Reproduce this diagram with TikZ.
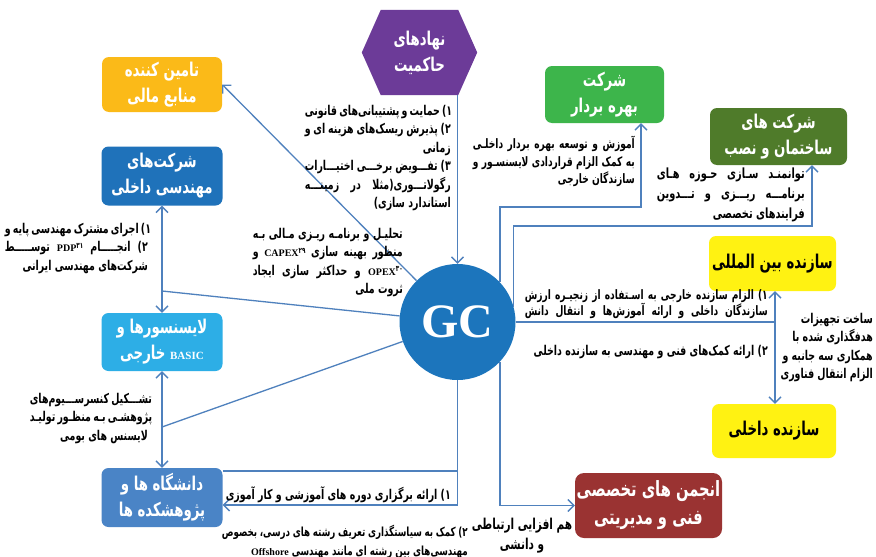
\documentclass[tikz,border=0pt]{standalone}
\usepackage{fontspec}
\usetikzlibrary{arrows.meta}
\TeXXeTstate=1
\newfontfamily\fa[Script=Arabic, FakeStretch=0.7]{DejaVu Sans}
\newfontfamily\lat{Liberation Serif}
\newcommand\jl[2]{\hbox to #1pt{#2}}
\newcommand\en[1]{\beginL{\lat\bfseries\fontsize{10}{10}\selectfont #1}\endL}
\newcommand\sps[1]{\raisebox{0.8ex}{\fa\fontsize{8}{8}\selectfont #1}}
\definecolor{cLine}{HTML}{4F81BD}
\definecolor{cHex}{HTML}{6C3B98}
\definecolor{cTamin}{HTML}{FBBA18}
\definecolor{cShm}{HTML}{1F72BA}
\definecolor{cLis}{HTML}{2DAEE6}
\definecolor{cDan}{HTML}{4A84C6}
\definecolor{cBah}{HTML}{3DB54B}
\definecolor{cSak}{HTML}{4F7B2A}
\definecolor{cYel}{HTML}{FFF212}
\definecolor{cAnj}{HTML}{9A3332}
\definecolor{cGC}{HTML}{1C75BC}
\begin{document}
\begin{tikzpicture}[x=1pt,y=-1pt,
  box/.style={rounded corners=7pt, text=white, align=center, inner sep=0pt,
    font=\fa\bfseries\fontsize{19}{26}\selectfont},
  ptxt/.style={inner sep=0pt, align=right, text=black,
    font=\fa\bfseries\fontsize{13.5}{18.5}\selectfont},
  conn/.style={draw=cLine, line width=1.3pt},
  arr/.style={-{Straight Barb[length=6pt,width=12pt]}},
  both/.style={{Straight Barb[length=6pt,width=12pt]}-{Straight Barb[length=6pt,width=12pt]}}]
\useasboundingbox (0,0) rectangle (876,557);
\fill[white] (0,0) rectangle (876,557);

% hexagon
\node[minimum width=115pt, minimum height=85pt, inner sep=0pt] (hex) at (419.5,52.5) {};
\fill[cHex] (hex.west) -- ([xshift=19pt]hex.north west) -- ([xshift=-19pt]hex.north east)
  -- (hex.east) -- ([xshift=-19pt]hex.south east) -- ([xshift=19pt]hex.south west) -- cycle;
\node[box, text=white] (hexlbl) at (hex.center) {\beginR نهادهای\endR\\\beginR حاکمیت\endR};

% GC
\node[circle, fill=cGC, minimum size=116pt, inner sep=0pt, text=white,
  font=\lat\bfseries\fontsize{48}{48}\selectfont] (gc) at (457.5,322) {GC};

% boxes
\node[box, fill=cTamin, minimum width=120pt, minimum height=55pt] (tamin) at (162,84.5) {\beginR تامین کننده\endR\\\beginR منابع مالی\endR};
\node[box, fill=cShm, minimum width=121pt, minimum height=59pt] (shm) at (162,176) {\beginR شرکت^^^^200cهای\endR\\\beginR مهندسی داخلی\endR};
\node[box, fill=cLis, minimum width=121pt, minimum height=58pt] (lis) at (162,342) {\beginR لایسنسورها و\endR\\\beginR\beginL{\lat\fontsize{11}{11}\selectfont BASIC}\endL{} خارجی\endR};
\node[box, fill=cDan, minimum width=121pt, minimum height=59pt] (dan) at (162,497.5) {\beginR دانشگاه ها و\endR\\\beginR پژوهشکده ها\endR};
\node[box, fill=cBah, minimum width=119pt, minimum height=57pt] (bah) at (604.5,94.5) {\beginR شرکت\endR\\\beginR بهره بردار\endR};
\node[box, fill=cSak, minimum width=137pt, minimum height=57pt] (sak) at (778.5,136.5) {\beginR شرکت های\endR\\\beginR ساختمان و نصب\endR};
\node[box, fill=cYel, text=black, minimum width=127pt, minimum height=55pt] (sbn) at (772.5,263.5) {\beginR سازنده بین المللی\endR};
\node[box, fill=cYel, text=black, minimum width=124pt, minimum height=54pt] (sdk) at (774,431) {\beginR سازنده داخلی\endR};
\node[box, fill=cAnj, rounded corners=9pt, minimum width=147pt, minimum height=65pt,
  font=\fa\bfseries\fontsize{21}{28}\selectfont] (anj) at (648.5,505.5) {\beginR انجمن های تخصصی\endR\\\beginR فنی و مدیریتی\endR};

% connectors
\draw[conn,arr] (gc.north |- hex.south) -- (gc.north);
\draw[conn,arr] (gc) -- (tamin.east);
\coordinate (j1) at (162,291);
\draw[conn] (j1) -- (gc);
\draw[conn,both] (shm.south) -- (lis.north);
\coordinate (j2) at (162,427);
\draw[conn] (j2) -- (gc);
\draw[conn,both] (lis.south) -- (dan.north);
\coordinate (b1) at (457.5,505);
\coordinate (b2) at (457.5,471);
\draw[conn,arr] (gc.south) -- (b1) -- (b1 -| dan.east);
\draw[conn] (b2) -- (b2 -| dan.east);
\draw[conn,arr] (gc.-43) |- (anj.west);
\coordinate (r1) at (775,322);
\draw[conn] (gc.east) -- (r1);
\draw[conn,both] (r1 |- sbn.south) -- (r1 |- sdk.north);
\coordinate (t1) at (641,207);
\draw[conn,arr] (gc.43) |- (t1) -- (t1 |- bah.south);
\coordinate (t2) at (812,226);
\draw[conn,arr] (gc.15) |- (t2) -- (t2 |- sak.south);

% texts
\node[ptxt, anchor=north east] (x1) at (451,105) {\jl{146}{\beginR ۱) حمایت و پشتیبانی^^^^200cهای قانونی\endR}\\\jl{146}{\beginR ۲) پذیرش ریسک^^^^200cهای هزینه ای و\endR}\\\beginR زمانی\endR\\\jl{146}{\beginR ۳) تفـــویض برخـــی اختیـــارات\endR}\\\jl{146}{\beginR رگولاتـــوری(مثلا در زمینـــه\endR}\\\beginR استاندارد سازی)\endR};
\node[ptxt, anchor=north east] (x2) at (403,228) {\jl{150}{\beginR تحلیـل و برنامـه ریـزی مـالی بـه\endR}\\\jl{150}{\beginR منظور بهینه سازی \en{CAPEX\sps{۲۹}} و\endR}\\\jl{150}{\beginR\en{OPEX\sps{۳۰}} و حداکثر سازی ایجاد\endR}\\\beginR ثروت ملی\endR};
\node[ptxt, anchor=north east] (x3) at (148,223) {\jl{143}{\beginR ۱) اجرای مشترک مهندسی پایه و\endR}\\\jl{143}{\beginR ۲) انجـــــام \en{PDP\sps{۳۱}} توســـــط\endR}\\\beginR شرکت^^^^200cهای مهندسی ایرانی\endR};
\node[ptxt, anchor=north east] (x4) at (148,393) {\jl{118}{\beginR تشـــکیل کنسرســـیوم^^^^200cهای\endR}\\\jl{118}{\beginR پژوهشـی بـه منظـور تولیـد\endR}\\\beginR لایسنس های بومی\endR};
\node[ptxt, anchor=east] (x5) at (451,495) {\beginR ۱) ارائه برگزاری دوره های آموزشی و کار آموزی\endR};
\node[ptxt, anchor=north east, font=\fa\bfseries\fontsize{12.5}{19}\selectfont] (x6) at (468,525) {\jl{246}{\beginR ۲) کمک به سیاستگذاری تعریف رشته های درسی، بخصوص\endR}\\\beginR مهندسی^^^^200cهای بین رشته ای مانند مهندسی \en{Offshore}\endR};
\node[ptxt, anchor=north east, font=\fa\bfseries\fontsize{13}{17.5}\selectfont] (x7) at (635,136) {\jl{162}{\beginR آموزش و توسعه بهره بردار داخلـی\endR}\\\jl{162}{\beginR به کمک الزام قراردادی لایسنسـور و\endR}\\\beginR سازندگان خارجی\endR};
\node[ptxt, anchor=north east, font=\fa\bfseries\fontsize{14}{20}\selectfont] (x8) at (805,168) {\jl{148}{\beginR توانمنـد سـازی حـوزه هـای\endR}\\\jl{148}{\beginR برنامـــه ریـــزی و تـــدوین\endR}\\\beginR فرایندهای تخصصی\endR};
\node[ptxt, anchor=north east, font=\fa\bfseries\fontsize{13}{16.5}\selectfont] (x9) at (768,289) {\jl{243}{\beginR ۱) الزام سازنده خارجی به اسـتفاده از زنجیـره ارزش\endR}\\\jl{243}{\beginR سازندگان داخلی و ارائه آموزش^^^^200cها و انتقال دانش\endR}};
\node[ptxt, anchor=east] (x10) at (768,352) {\beginR ۲) ارائه کمک^^^^200cهای فنی و مهندسی به سازنده داخلی\endR};
\node[ptxt, anchor=north east] (x11) at (873,313) {\beginR ساخت تجهیزات\endR\\\beginR هدفگذاری شده با\endR\\\beginR همکاری سه جانبه و\endR\\\beginR الزام انتقال فناوری\endR};
\node[ptxt, anchor=north, align=center, font=\fa\bfseries\fontsize{15}{20}\selectfont] (x12) at (522,518) {\beginR هم افزایی ارتباطی\endR\\\beginR و دانشی\endR};
\end{tikzpicture}
\end{document}
